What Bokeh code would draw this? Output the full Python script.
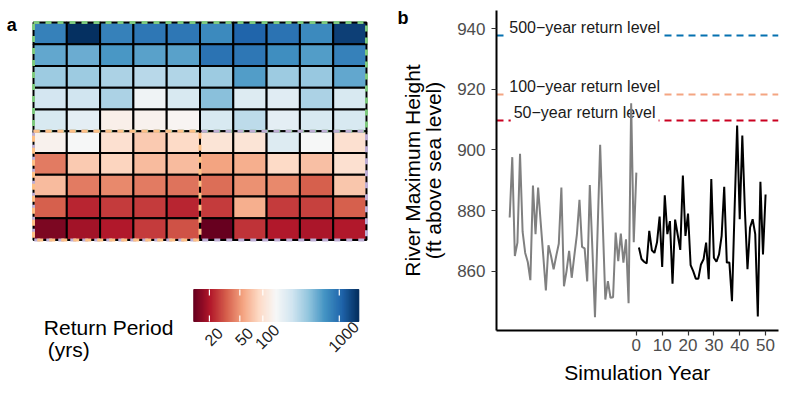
import math
import numpy as np
from bokeh.plotting import figure
from bokeh.models import ColumnDataSource, Range1d, Label, FixedTicker, LinearAxis
from bokeh.layouts import row, column
from bokeh.transform import log_cmap
from bokeh.core.properties import value
from bokeh.embed import file_html
from bokeh.resources import INLINE

FONT = "Liberation Sans"

# ---------------- data ----------------
# return period (years) of each heat-map cell, rows listed top to bottom
rp_row1 = [812, 1800, 812, 897, 897, 735, 1094, 943, 735, 1550]
rp_row2 = [546, 519, 634, 574, 574, 943, 897, 700, 603, 812]
rp_row3 = [367, 367, 332, 301, 316, 367, 603, 367, 385, 546]
rp_row4 = [235, 246, 332, 166, 223, 426, 212, 202, 332, 223]
rp_row5 = [223, 192, 129, 136, 143, 223, 286, 192, 223, 223]
rp_row6 = [136, 150, 101, 78.6, 91.2, 106, 106, 212, 150, 101]
rp_row7 = [41.2, 78.6, 86.8, 67.7, 67.7, 55.5, 61.3, 91.2, 71.2, 101]
rp_row8 = [67.7, 41.2, 45.5, 41.2, 39.2, 37.3, 47.8, 45.5, 33.8, 74.8]
rp_row9 = [33.8, 22.7, 26.3, 26.3, 22.7, 26.3, 61.3, 26.3, 27.7, 33.8]
rp_row10 = [14.5, 18.6, 20.5, 26.3, 30.6, 12.5, 25.1, 20.5, 19.6, 20.5]
rp_rows = [rp_row1, rp_row2, rp_row3, rp_row4, rp_row5,
           rp_row6, rp_row7, rp_row8, rp_row9, rp_row10]

# dashed group boxes on the grid (column / row index bounds, rows counted from bottom)
box_col0 = [0, 0, 0]
box_col1 = [10, 10, 5]
box_row0 = [5, 0, 0]
box_row1 = [10, 5, 5]
box_colors = ["#7fc97f", "#beaed4", "#fdc086"]

cbar_ticks = [20, 50, 100, 1000]
cbar_tick_labels = ["20", "50", "100", "1000"]

hist_years = list(range(-49, 1))
hist_height = [877.7, 897.6, 865.0, 869.4, 898.7, 873.0, 866.0, 863.0, 857.0, 888.2,
               872.2, 887.6, 876.0, 865.0, 853.6, 868.5, 865.0, 860.6, 865.0, 869.0,
               887.6, 855.0, 860.0, 866.7, 857.8, 865.0, 872.0, 883.5, 868.0, 867.5,
               856.6, 888.4, 867.2, 844.8, 873.0, 901.7, 876.0, 850.6, 856.7, 851.2,
               851.4, 872.7, 863.3, 872.4, 862.8, 870.5, 849.4, 915.4, 869.5, 892.5]

sim_years = list(range(1, 51))
sim_height = [867.8, 864.0, 863.1, 862.5, 873.3, 866.9, 866.0, 869.5, 878.0, 861.4,
              885.0, 872.2, 876.5, 855.8, 877.0, 872.0, 867.0, 891.5, 871.6, 879.0,
              862.0, 860.0, 857.5, 857.5, 862.2, 863.9, 869.4, 857.3, 890.4, 864.4,
              863.1, 865.5, 871.6, 887.8, 862.8, 862.8, 850.1, 880.0, 908.0, 877.1,
              904.7, 880.0, 860.6, 874.4, 877.1, 872.2, 845.0, 889.5, 865.5, 885.3]

level_names = ["500\u2212year return level", "100\u2212year return level", "50\u2212year return level"]
level_values = [937.7, 918.2, 909.8]
level_colors = ["#0571b0", "#f4a582", "#ca0020"]

x_ticks = [0, 10, 20, 30, 40, 50]
y_ticks = [860, 880, 900, 920, 940]

# ---------------- palette (RdBu, red -> blue) ----------------
rdbu = ["#67001f", "#b2182b", "#d6604d", "#f4a582", "#fddbc7", "#f7f7f7",
        "#d1e5f0", "#92c5de", "#4393c3", "#2166ac", "#053061"]


def interp_palette(colors, n):
    rgb = np.array([[int(c[i:i + 2], 16) for i in (1, 3, 5)] for c in colors], float)
    pos = np.linspace(0, 1, len(colors))
    t = np.linspace(0, 1, n)
    ch = [np.interp(t, pos, rgb[:, k]) for k in range(3)]
    return ["#%02x%02x%02x" % (int(round(ch[0][i])), int(round(ch[1][i])), int(round(ch[2][i])))
            for i in range(n)]


pal = interp_palette(rdbu, 256)
all_rp = [v for r in rp_rows for v in r]
lo, hi = min(all_rp), max(all_rp)

# ---------------- panel a: heat map ----------------
xs, ys, vals = [], [], []
nrow = len(rp_rows)
for ri, r in enumerate(rp_rows):
    for ci, v in enumerate(r):
        xs.append(ci + 0.5)
        ys.append(nrow - ri - 0.5)
        vals.append(v)
hsrc = ColumnDataSource(dict(x=xs, y=ys, rp=vals))

A_W, A_H = 393, 270
cell_w = 33.3
cell_h = 21.75
pa = figure(width=A_W, height=A_H, output_backend="svg", toolbar_location=None,
            x_range=Range1d(-33 / cell_w, 10 + (A_W - 366) / cell_w),
            y_range=Range1d(-(A_H - 239.5) / cell_h, 10 + 22 / cell_h),
            min_border=0, x_axis_location=None, y_axis_location=None,
            outline_line_color=None)
pa.grid.visible = False
pa.rect(x="x", y="y", width=1, height=1, source=hsrc,
        fill_color=log_cmap("rp", pal, lo, hi), line_color="black", line_width=2)
pa.quad(left=box_col0, right=box_col1, bottom=box_row0, top=box_row1,
        fill_color=None, line_color=box_colors, line_width=3, line_dash="6 6")
pa.add_layout(Label(x=11.3, y=24, x_units="canvas", y_units="canvas", text="a",
                    text_font=FONT, text_font_size="18px", text_font_style="bold",
                    text_align="center", text_baseline="alphabetic", text_color="black"))

# ---------------- colour bar ----------------
C_W, C_H = 393, 125
ppd = 165 / (math.log10(hi) - math.log10(lo))
cx0 = 10 ** (math.log10(lo) - 193.3 / ppd)
cx1 = 10 ** (math.log10(hi) + (C_W - 358.3) / ppd)
pc = figure(width=C_W, height=C_H, output_backend="svg", toolbar_location=None,
            x_axis_type="log", x_range=Range1d(cx0, cx1),
            y_range=Range1d(-(C_H - 51) / 32, 1 + 19 / 32),
            min_border=0, x_axis_location=None, y_axis_location=None,
            outline_line_color=None)
pc.grid.visible = False
edges = np.geomspace(lo, hi, 257)
csrc = ColumnDataSource(dict(left=edges[:-1], right=edges[1:],
                             mid=np.sqrt(edges[:-1] * edges[1:])))
cm = log_cmap("mid", pal, lo, hi)
pc.quad(left="left", right="right", bottom=0, top=1, source=csrc,
        fill_color=cm, line_color=cm, line_width=1)
pc.segment(x0=cbar_ticks, y0=[0] * 4, x1=cbar_ticks, y1=[0.19] * 4, line_color="white", line_width=1.2)
pc.segment(x0=cbar_ticks, y0=[0.81] * 4, x1=cbar_ticks, y1=[1] * 4, line_color="white", line_width=1.2)
pc.text(x=cbar_ticks, y=[-0.469] * 4, text=cbar_tick_labels, angle=math.pi / 4,
        text_align="center", text_baseline="middle", x_offset=4,
        text_font=value(FONT), text_font_size="16px", text_color="#222222")
pc.add_layout(Label(x=43.3, y=57.3, x_units="canvas", y_units="canvas", text="Return Period",
                    text_font=FONT, text_font_size="21px", text_baseline="alphabetic",
                    text_color="black"))
pc.add_layout(Label(x=47.3, y=79.3, x_units="canvas", y_units="canvas", text="(yrs)",
                    text_font=FONT, text_font_size="21px", text_baseline="alphabetic",
                    text_color="black"))

# ---------------- panel b: time series ----------------
pb = figure(width=396, height=395, output_backend="svg", toolbar_location=None,
            x_range=Range1d(-54.1, 55), y_range=Range1d(840.4, 946),
            min_border_left=103, min_border_right=11, min_border_top=10, min_border_bottom=65,
            outline_line_color=None)
pb.grid.visible = False
pb.hspan(y=level_values, line_color=level_colors, line_dash="7 5", line_width=2)
pb.text(x=[-20] * 3, y=level_values, text=level_names, text_align="center",
        text_baseline="alphabetic", y_offset=-8,
        background_fill_color="white", padding=3,
        text_font=value(FONT), text_font_size="16px", text_color="#1a1a1a")
pb.line(hist_years, hist_height, line_color="#808080", line_width=2)
pb.line(sim_years, sim_height, line_color="black", line_width=2)

pb.xaxis.ticker = FixedTicker(ticks=x_ticks)
pb.yaxis.ticker = FixedTicker(ticks=y_ticks)
pb.xaxis.axis_label = "Simulation Year"
pb.yaxis.axis_label = "River Maximum Height\n(ft above sea level)"
for ax in (pb.xaxis[0], pb.yaxis[0]):
    ax.axis_line_color = "black"
    ax.axis_line_width = 2
    ax.major_tick_line_color = "#333333"
    ax.major_tick_line_width = 1.2
    ax.major_tick_out = 5
    ax.major_tick_in = 0
    ax.minor_tick_line_color = None
    ax.major_label_text_font = FONT
    ax.major_label_text_font_size = "17px"
    ax.major_label_text_color = "#4d4d4d"
    ax.axis_label_text_font = FONT
    ax.axis_label_text_font_size = "21px"
    ax.axis_label_text_font_style = "normal"
    ax.axis_label_text_color = "black"
pb.xaxis.major_label_standoff = 3
pb.xaxis.axis_label_standoff = 7
pb.yaxis.major_label_standoff = 6
pb.yaxis.axis_label_standoff = 9
pb.yaxis.axis_label_text_line_height = 0.9

# panel tag "b", drawn as the single label of a bare outer axis
tag_axis = LinearAxis(ticker=FixedTicker(ticks=[943.6]), major_label_overrides={943.6: "b"},
                      axis_line_color=None, major_tick_line_color=None,
                      minor_tick_line_color=None, major_tick_out=0, major_tick_in=0,
                      major_label_standoff=-10,
                      major_label_text_font=FONT, major_label_text_font_size="18px",
                      major_label_text_font_style="bold", major_label_text_color="black")
pb.add_layout(tag_axis, "left")

layout = row(column(pa, pc), pb)
open("out.html", "w").write(file_html(layout, INLINE))
